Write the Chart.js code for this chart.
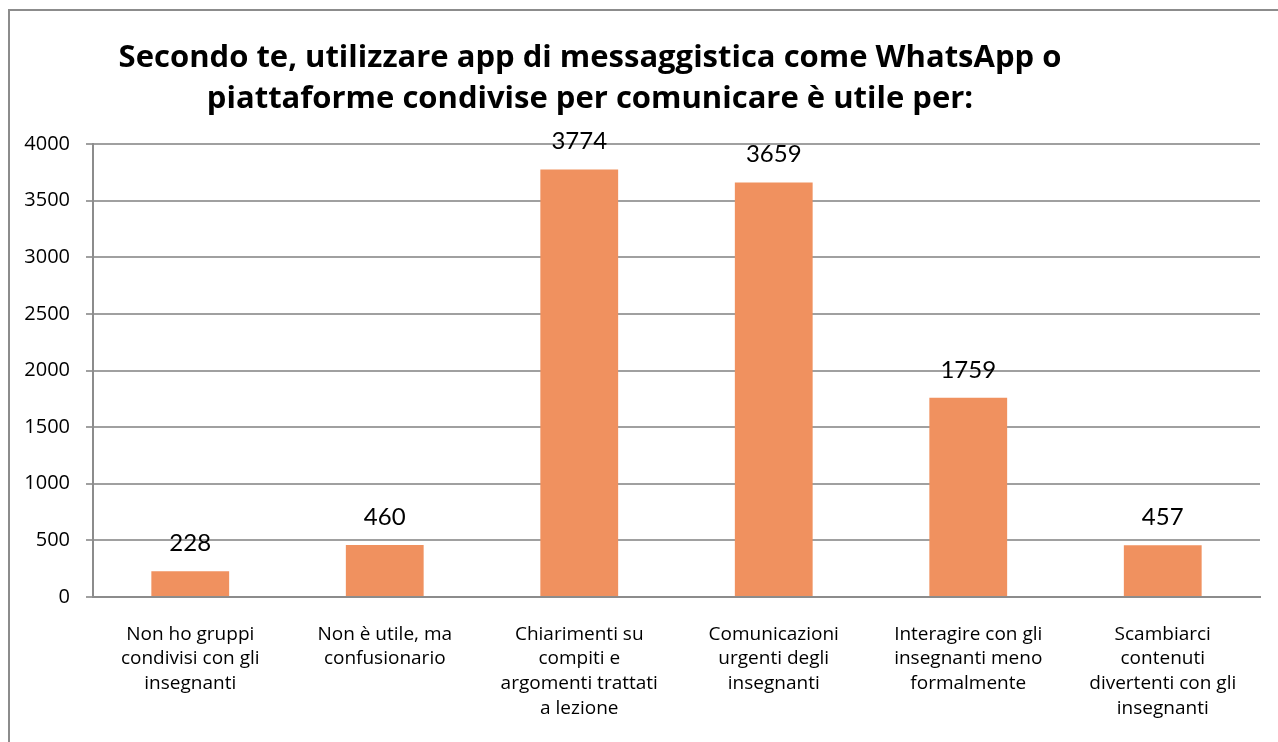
<!DOCTYPE html>
<html>
<head>
<meta charset="utf-8">
<script src="https://cdn.jsdelivr.net/npm/chart.js@4/dist/chart.umd.min.js"></script>
<style>
  html, body { margin: 0; padding: 0; background: #fff; }
  #wrap { width: 1278px; height: 742px; }
</style>
</head>
<body>
<div id="wrap"><canvas id="c" width="1278" height="742"></canvas></div>
<script>
// chart data
const titleLines = [
  "Secondo te, utilizzare app di messaggistica come WhatsApp o",
  "piattaforme condivise per comunicare è utile per:"
];
const answers = [
  ["Non ho gruppi", "condivisi con gli", "insegnanti"],
  ["Non è utile, ma", "confusionario"],
  ["Chiarimenti su", "compiti e", "argomenti trattati", "a lezione"],
  ["Comunicazioni", "urgenti degli", "insegnanti"],
  ["Interagire con gli", "insegnanti meno", "formalmente"],
  ["Scambiarci", "contenuti", "divertenti con gli", "insegnanti"]
];
const counts = [228, 460, 3774, 3659, 1759, 457];
const yTicks = [0, 500, 1000, 1500, 2000, 2500, 3000, 3500, 4000];

const FONT = "'Open Sans', Lato, sans-serif";

// outer frame + title
const framePlugin = {
  id: "frame",
  beforeDraw(chart) {
    const ctx = chart.ctx;
    ctx.save();
    ctx.fillStyle = "#fff";
    ctx.fillRect(0, 0, chart.width, chart.height);
    ctx.strokeStyle = "#8c8c8c";
    ctx.lineWidth = 2;
    ctx.strokeRect(9, 10, 1400, 900);
    ctx.restore();
  },
  afterDraw(chart) {
    const ctx = chart.ctx;
    ctx.save();
    ctx.fillStyle = "#000";
    ctx.font = "bold 31px " + FONT;
    ctx.textAlign = "center";
    ctx.textBaseline = "middle";
    ctx.fillText(titleLines[0], 590, 58, 945);
    ctx.fillText(titleLines[1], 590, 99, 945);
    ctx.restore();
  }
};

// value labels above the bars
const valuePlugin = {
  id: "values",
  afterDatasetsDraw(chart) {
    const ctx = chart.ctx;
    const meta = chart.getDatasetMeta(0);
    ctx.save();
    ctx.fillStyle = "#000";
    ctx.font = "24px Lato, sans-serif";
    ctx.textAlign = "center";
    ctx.textBaseline = "middle";
    meta.data.forEach((bar, i) => {
      ctx.fillText(String(counts[i]), bar.x, bar.y - 28);
    });
    ctx.restore();
  }
};

new Chart("c", {
  type: "bar",
  data: {
    labels: answers,
    datasets: [{
      data: counts,
      backgroundColor: "#F0915F",
      borderWidth: 0,
      categoryPercentage: 1,
      barPercentage: 0.4
    }]
  },
  options: {
    responsive: false,
    animation: false,
    layout: { padding: { top: 144, right: 18, bottom: 0, left: 0 } },
    plugins: {
      legend: { display: false },
      title: { display: false },
      tooltip: { enabled: false }
    },
    scales: {
      x: {
        grid: { display: false, drawTicks: false },
        border: { display: true, color: "#8c8c8c", width: 2 },
        ticks: {
          color: "#000",
          font: { family: FONT, size: 19, lineHeight: 1.3 },
          padding: 25,
          maxRotation: 0,
          autoSkip: false
        },
        afterFit(scale) { scale.height = 145; }
      },
      y: {
        min: 0,
        max: 4000,
        afterBuildTicks(scale) { scale.ticks = yTicks.map(v => ({ value: v })); },
        grid: { color: "#a0a0a0", lineWidth: 2, tickLength: 7 },
        border: { display: true, color: "#8c8c8c", width: 2 },
        ticks: {
          color: "#000",
          font: { family: FONT, size: 20 },
          padding: 16,
          callback: v => String(v)
        },
        afterFit(scale) { scale.width = 93; }
      }
    }
  },
  plugins: [framePlugin, valuePlugin]
});
</script>
</body>
</html>
